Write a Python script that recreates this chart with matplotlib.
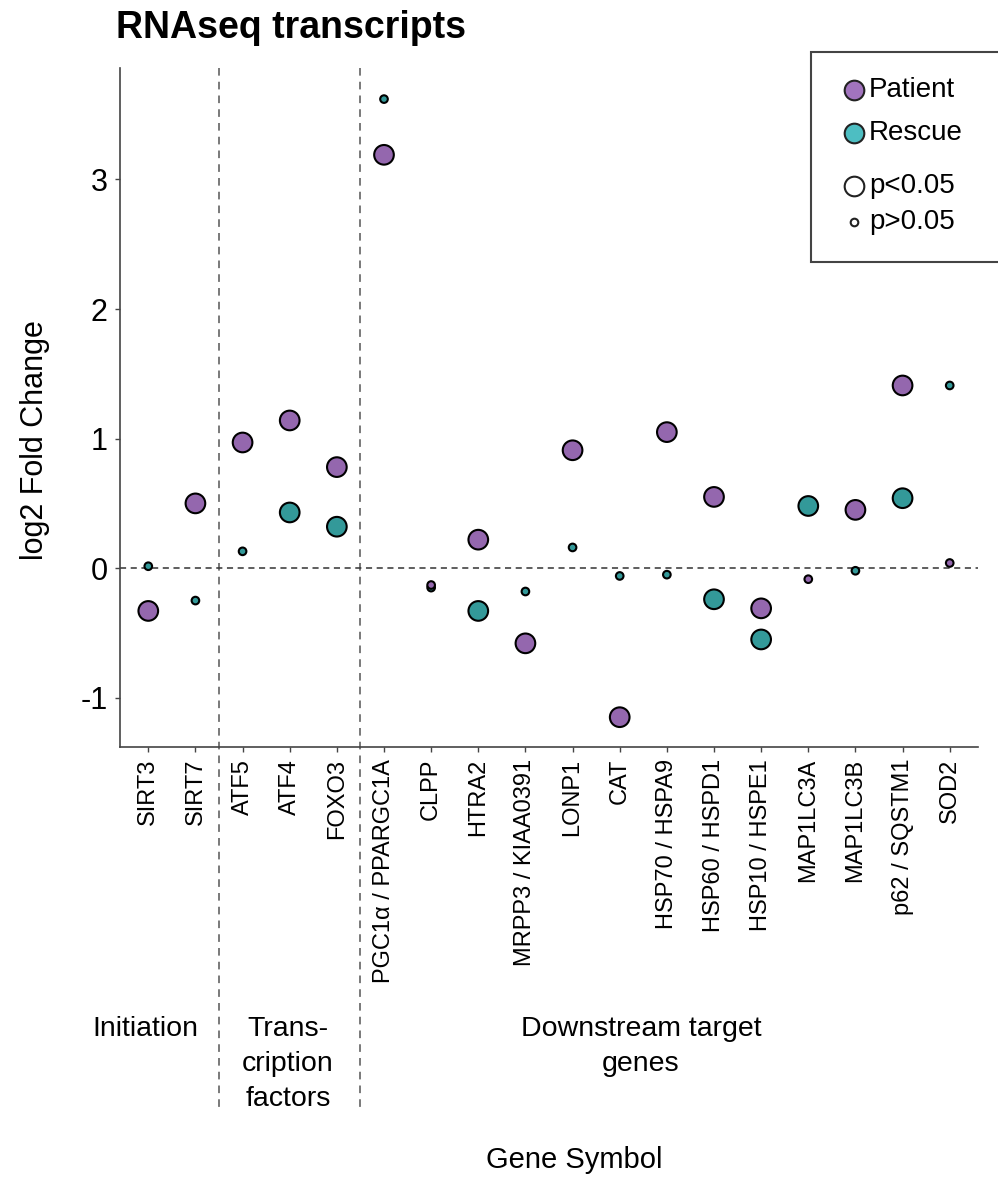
import matplotlib
matplotlib.use('Agg')
import matplotlib.pyplot as plt
from matplotlib.transforms import blended_transform_factory
from matplotlib.patches import Rectangle

plt.rcParams['font.family'] = ['Liberation Sans', 'DejaVu Sans']

# ---------------- data ----------------
genes = ["SIRT3", "SIRT7", "ATF5", "ATF4", "FOXO3", "PGC1\u03b1 / PPARGC1A", "CLPP", "HTRA2",
         "MRPP3 / KIAA0391", "LONP1", "CAT", "HSP70 / HSPA9", "HSP60 / HSPD1",
         "HSP10 / HSPE1", "MAP1LC3A", "MAP1LC3B", "p62 / SQSTM1", "SOD2"]
patient_lfc = [-0.33, 0.50, 0.97, 1.14, 0.78, 3.19, -0.13, 0.22, -0.58, 0.91, -1.15,
               1.05, 0.55, -0.31, -0.085, 0.45, 1.41, 0.04]
patient_sig = [True, True, True, True, True, True, False, True, True, True, True,
               True, True, True, False, True, True, False]
rescue_lfc = [0.015, -0.25, 0.13, 0.43, 0.32, 3.62, -0.15, -0.33, -0.18, 0.16, -0.06,
              -0.05, -0.24, -0.55, 0.48, -0.02, 0.54, 1.41]
rescue_sig = [False, False, False, True, True, False, False, True, False, False, False,
              False, True, True, True, False, True, False]
group_names = ["Initiation", "Trans-\ncription\nfactors", "Downstream target\ngenes"]
group_ranges = [(0, 1), (2, 4), (5, 17)]
yticks = [-1, 0, 1, 2, 3]

# ---------------- style ----------------
W, H = 998, 1180
PURPLE = "#9467AE"
TEAL = "#339999"
PURPLE_LEG = "#A274BE"
TEAL_LEG = "#4DBEC2"
S_BIG, S_SMALL = 200, 30
SPINE = "#444444"

fig = plt.figure(figsize=(W / 100, H / 100), dpi=100)
ax = fig.add_axes([120 / W, 1 - 747 / H, (978 - 120) / W, (747 - 68) / H])

x = list(range(len(genes)))
ax.scatter(x, rescue_lfc, s=[S_BIG if s else S_SMALL for s in rescue_sig],
           c=TEAL, edgecolors="black", linewidths=1.5, zorder=3)
ax.scatter(x, patient_lfc, s=[S_BIG if s else S_SMALL for s in patient_sig],
           c=PURPLE, edgecolors="black", linewidths=1.5, zorder=4)

ax.axhline(0, color="#333333", lw=1.1, ls=(0, (4, 3)), zorder=2)

ax.set_xlim(-0.6, len(genes) - 0.4)
ax.set_ylim(-1.38, 3.86)
ax.set_yticks(yticks)
ax.set_yticklabels([str(v) for v in yticks], fontsize=22)
ax.set_xticks(x)
ax.set_xticklabels(genes, rotation=90, fontsize=17, va="top", ha="center")
ax.tick_params(axis="both", length=3.5, width=1, color=SPINE)
ax.tick_params(axis="y", pad=5.5)
ax.tick_params(axis="x", pad=5)
for side in ["top", "right"]:
    ax.spines[side].set_visible(False)
for side in ["left", "bottom"]:
    ax.spines[side].set_color(SPINE)
    ax.spines[side].set_linewidth(1.2)

fig.text(35 / W, 1 - 440 / H, "log2 Fold Change", rotation=90, ha="center", va="center",
         fontsize=22)

# group separators (extend below axes)
trans = blended_transform_factory(ax.transData, fig.transFigure)
for (a, b), (c, d) in zip(group_ranges[:-1], group_ranges[1:]):
    xs = (b + c) / 2
    ax.plot([xs, xs], [1 - 68 / H, 1 - 1112 / H], transform=trans, clip_on=False,
            color="#555555", lw=1.1, ls=(0, (5, 4)), zorder=1)

# group labels
group_label_px = [145, 288, 641]
for name, xp in zip(group_names, group_label_px):
    fig.text(xp / W, 1 - 1016 / H, name, ha="center", va="top",
             fontsize=20.5, linespacing=1.45)

fig.text(574 / W, 1 - 1160 / H, "Gene Symbol", ha="center", va="center", fontsize=21)
fig.text(116 / W, 1 - 28 / H, "RNAseq transcripts", ha="left", va="center",
         fontsize=27, fontweight="bold")

# legend (drawn in pixel space of an overlay axes)
lax = fig.add_axes([0, 0, 1, 1], zorder=10)
lax.set_xlim(0, W)
lax.set_ylim(H, 0)
lax.axis("off")
lax.add_patch(Rectangle((811, 52), 200, 210, facecolor="white", edgecolor="#444444",
                        lw=1.5, clip_on=False))
leg_items = [("Patient", PURPLE_LEG, S_BIG, 90),
             ("Rescue", TEAL_LEG, S_BIG, 133),
             ("p<0.05", "white", S_BIG, 186),
             ("p>0.05", "white", S_SMALL, 222)]
for label, col, s, yy in leg_items:
    lax.scatter([854], [yy], s=s, c=col, edgecolors="#222222", linewidths=1.5, clip_on=False)
    lax.text(869, yy, label, ha="left", va="center", fontsize=20)

fig.savefig("out.png", dpi=100)
